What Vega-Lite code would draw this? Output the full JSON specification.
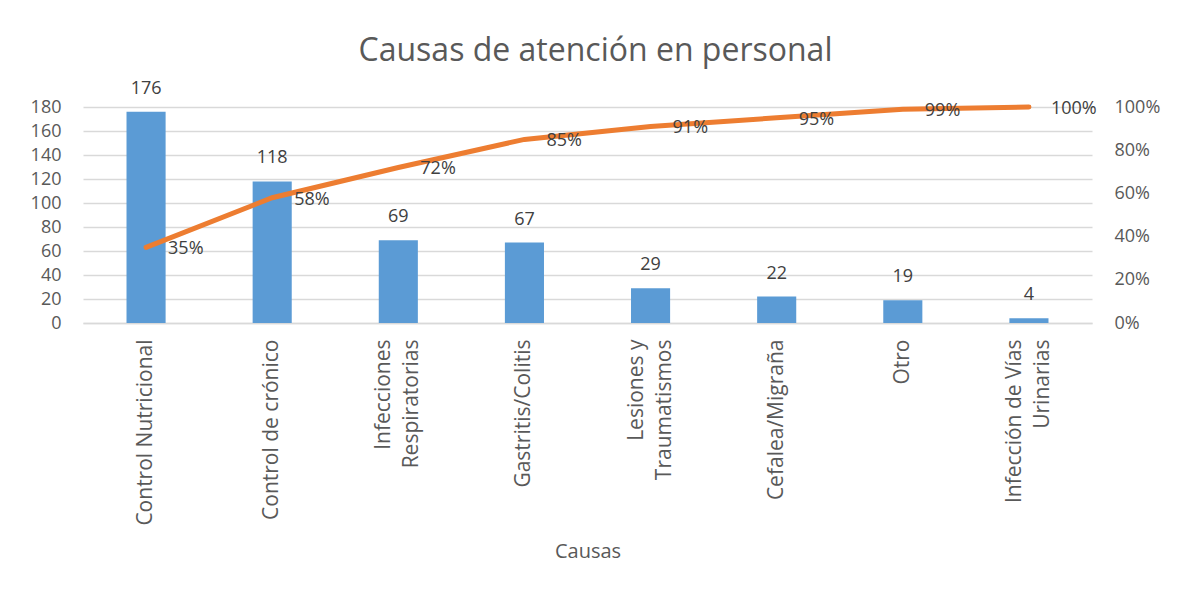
{
  "$schema": "https://vega.github.io/schema/vega-lite/v6.json",
  "autosize": {"type": "none"},
  "width": 1009,
  "height": 216,
  "padding": {"left": 83, "top": 107, "right": 85, "bottom": 270},
  "background": "white",
  "title": {
    "text": "Causas de atención en personal",
    "fontSize": 32,
    "font": "Open Sans",
    "fontWeight": "normal",
    "color": "#595959",
    "anchor": "middle",
    "offset": 12,
    "dx": 8
  },
  "data": {
    "values": [
      {"causa": "Control Nutricional", "n": 176, "acum": 0.35},
      {"causa": "Control de crónico", "n": 118, "acum": 0.58},
      {"causa": "Infecciones|Respiratorias", "n": 69, "acum": 0.72},
      {"causa": "Gastritis/Colitis", "n": 67, "acum": 0.85},
      {"causa": "Lesiones y|Traumatismos", "n": 29, "acum": 0.91},
      {"causa": "Cefalea/Migraña", "n": 22, "acum": 0.95},
      {"causa": "Otro", "n": 19, "acum": 0.99},
      {"causa": "Infección de Vías|Urinarias", "n": 4, "acum": 1.0}
    ]
  },
  "encoding": {
    "x": {
      "field": "causa",
      "type": "nominal",
      "sort": null,
      "scale": {"paddingInner": 0.69, "paddingOuter": 0.345},
      "axis": {
        "title": "Causas",
        "titleFont": "Open Sans",
        "titleFontSize": 20,
        "titleFontWeight": "normal",
        "titleColor": "#595959",
        "titlePadding": 18,
        "labelAngle": -90,
        "labelAlign": "right",
        "labelBaseline": "middle",
        "labelExpr": "split(datum.label, '|')",
        "labelOffset": {"condition": {"test": "indexof(datum.value, '|') >= 0", "value": -14}, "value": 0},
        "labelFont": "Open Sans",
        "labelFontSize": 21,
        "labelColor": "#595959",
        "labelPadding": 16,
        "labelLineHeight": 28,
        "labelLimit": 400,
        "labelOverlap": false,
        "ticks": false,
        "domainColor": "#D9D9D9",
        "domainWidth": 1.5,
        "grid": false
      }
    }
  },
  "layer": [
    {
      "mark": {"type": "bar", "color": "#5B9BD5"},
      "encoding": {
        "y": {
          "field": "n",
          "type": "quantitative",
          "scale": {"domain": [0, 180], "nice": false},
          "axis": {
            "title": null,
            "values": [0, 20, 40, 60, 80, 100, 120, 140, 160, 180],
            "labelFont": "Open Sans",
            "labelFontSize": 18,
            "labelColor": "#595959",
            "labelPadding": 22,
            "ticks": false,
            "domain": false,
            "grid": true,
            "gridColor": "#D9D9D9",
            "gridWidth": 1.5
          }
        }
      }
    },
    {
      "mark": {"type": "text", "baseline": "alphabetic", "dy": -18, "font": "Open Sans", "fontSize": 18, "color": "#404040"},
      "encoding": {
        "y": {"field": "n", "type": "quantitative", "scale": {"domain": [0, 180], "nice": false}, "axis": null},
        "text": {"field": "n", "type": "quantitative"}
      }
    },
    {
      "mark": {"type": "line", "color": "#ED7D31", "strokeWidth": 5, "strokeCap": "round"},
      "encoding": {
        "y": {
          "field": "acum",
          "type": "quantitative",
          "scale": {"domain": [0, 1], "nice": false},
          "axis": {
            "orient": "right",
            "title": null,
            "format": ".0%",
            "values": [0, 0.2, 0.4, 0.6, 0.8, 1],
            "labelFont": "Open Sans",
            "labelFontSize": 18,
            "labelColor": "#595959",
            "labelPadding": 22,
            "ticks": false,
            "domain": false,
            "grid": false
          }
        }
      }
    },
    {
      "mark": {"type": "text", "align": "left", "baseline": "middle", "dx": 22, "dy": 2, "font": "Open Sans", "fontSize": 18, "color": "#404040"},
      "encoding": {
        "y": {"field": "acum", "type": "quantitative", "scale": {"domain": [0, 1], "nice": false}, "axis": null},
        "text": {"field": "acum", "type": "quantitative", "format": ".0%"}
      }
    }
  ],
  "resolve": {"scale": {"y": "independent"}},
  "config": {"view": {"stroke": null}}
}
